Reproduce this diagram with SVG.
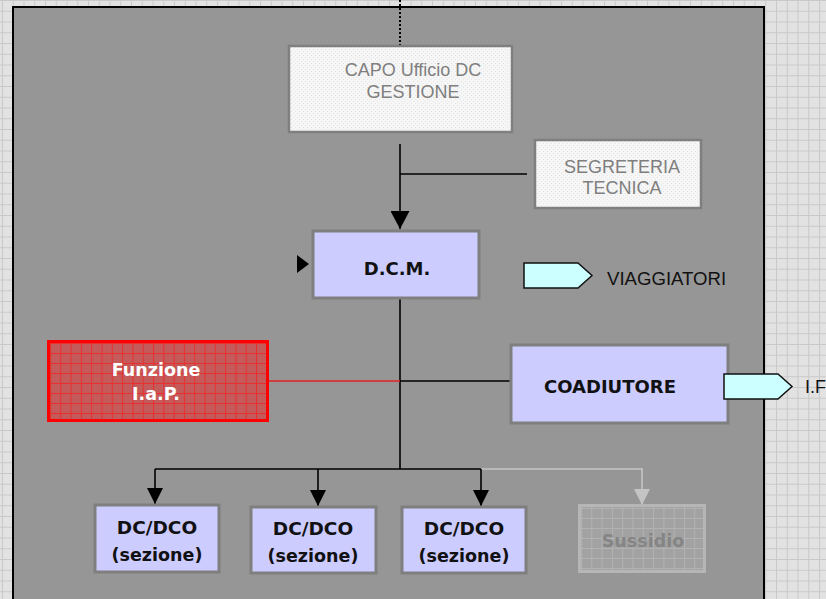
<svg xmlns="http://www.w3.org/2000/svg" width="826" height="599" viewBox="0 0 826 599">
<defs>
<pattern id="bggrid" width="10.75" height="10.75" patternUnits="userSpaceOnUse" x="2" y="0">
<rect width="10.75" height="10.75" fill="#e2e2e2"/>
<path d="M0 0.5H10.75M0.5 0V10.75" stroke="#c9c9c9" stroke-width="1" fill="none"/>
</pattern>
<pattern id="dots" width="4" height="4" patternUnits="userSpaceOnUse">
<rect width="4" height="4" fill="#f6f6f6"/>
<rect x="1" y="1" width="1" height="1" fill="#e4e4e4"/>
<rect x="3" y="3" width="1" height="1" fill="#e4e4e4"/>
</pattern>
<pattern id="redgrid" width="10.3" height="10" patternUnits="userSpaceOnUse" x="50" y="343">
<rect width="10.3" height="10" fill="#c45a5a"/>
<path d="M0 0.5H10.3M0.5 0V10" stroke="#e83030" stroke-width="1" fill="none"/>
</pattern>
<pattern id="graygrid" width="10.3" height="10" patternUnits="userSpaceOnUse" x="581" y="508">
<rect width="10.3" height="10" fill="#a2a2a2"/>
<path d="M0 0.5H10.3M0.5 0V10" stroke="#b2b2b2" stroke-width="1" fill="none"/>
</pattern>
<marker id="ah" viewBox="0 0 16 16" refX="16" refY="8" markerWidth="16" markerHeight="16" markerUnits="userSpaceOnUse" orient="auto">
<path d="M0 0L16 8L0 16Z" fill="#000"/>
</marker>
<marker id="ahb" viewBox="0 0 18 19" refX="18" refY="9.5" markerWidth="18" markerHeight="19" markerUnits="userSpaceOnUse" orient="auto">
<path d="M0 0L18 9.5L0 19Z" fill="#000"/>
</marker>
<marker id="ahg" viewBox="0 0 16 16" refX="16" refY="8" markerWidth="16" markerHeight="16" markerUnits="userSpaceOnUse" orient="auto">
<path d="M0 0L16 8L0 16Z" fill="#c4c4c4"/>
</marker>
</defs>
<style>
.lbl{font-family:"Liberation Sans",Arial,sans-serif;font-size:18px;text-anchor:middle}
.gray{fill:#7f7f7f}
.bold{font-family:"DejaVu Sans",Verdana,sans-serif;font-weight:bold;font-size:17.5px;text-anchor:middle;fill:#111}
.node{fill:#ccccff;stroke:#7f7f7f;stroke-width:3}
.ln{stroke:#000;stroke-width:1.6;fill:none}
.tag{fill:#ccffff;stroke:#111;stroke-width:1.5}
</style>
<rect width="826" height="599" fill="url(#bggrid)"/>
<rect x="13" y="7" width="751" height="600" fill="#969696" stroke="#000" stroke-width="2"/>

<g id="connectors">
<path d="M400 0V45" stroke="#000" stroke-width="2" stroke-dasharray="2 2" fill="none"/>
<path class="ln" d="M400 144V229" marker-end="url(#ahb)"/>
<path class="ln" d="M400 174H527"/>
<path class="ln" d="M400 299V469"/>
<path d="M268 381H400" stroke="#e02020" stroke-width="1.4" fill="none"/>
<path class="ln" d="M400 381H510"/>
<path class="ln" d="M155 469H481"/>
<path d="M481 469H643" stroke="#c4c4c4" stroke-width="1.6" fill="none"/>
<path class="ln" d="M155 469V504" marker-end="url(#ah)"/>
<path class="ln" d="M318 469V506" marker-end="url(#ah)"/>
<path class="ln" d="M481 469V506" marker-end="url(#ah)"/>
<path d="M642 469V505" stroke="#c4c4c4" stroke-width="1.6" fill="none" marker-end="url(#ahg)"/>
<path d="M297 255L309 264L297 273Z" fill="#000"/>
</g>

<g id="capo">
<rect x="289" y="46" width="223" height="86" fill="url(#dots)" stroke="#7f7f7f" stroke-width="2.5"/>
<text class="lbl gray" x="413" y="76">CAPO Ufficio DC</text>
<text class="lbl gray" x="413" y="98">GESTIONE</text>
</g>

<g id="segreteria">
<rect x="535" y="140" width="166" height="68" fill="url(#dots)" stroke="#7f7f7f" stroke-width="2.5"/>
<text class="lbl gray" x="622" y="173">SEGRETERIA</text>
<text class="lbl gray" x="622" y="194">TECNICA</text>
</g>

<g id="dcm">
<rect class="node" x="313" y="231" width="166" height="67"/>
<text class="bold" x="397" y="275" style="font-size:18px">D.C.M.</text>
</g>

<g id="viaggiatori">
<path class="tag" d="M524 263H578L592 275.5L578 288H524Z"/>
<text class="lbl" x="607" y="285" style="text-anchor:start;fill:#111;font-size:18.6px">VIAGGIATORI</text>
</g>

<g id="funzione">
<rect x="48.5" y="341.5" width="219" height="79" fill="url(#redgrid)" stroke="#ff0000" stroke-width="3"/>
<text class="bold" x="156" y="376" style="fill:#fff">Funzione</text>
<text class="bold" x="156" y="400" style="fill:#fff">I.a.P.</text>
</g>

<g id="coadiutore">
<rect class="node" x="511" y="345" width="217" height="78"/>
<text class="bold" x="610" y="393" style="font-size:18px">COADIUTORE</text>
</g>

<g id="if">
<path class="tag" d="M724 374H778L792 386.5L778 399H724Z"/>
<text class="lbl" x="805" y="393" style="text-anchor:start;fill:#111">I.F</text>
</g>

<g id="dc1">
<rect class="node" x="95" y="505" width="124" height="67"/>
<text class="bold" x="157" y="534" style="font-size:18.5px">DC/DCO</text>
<text class="bold" x="157" y="561">(sezione)</text>
</g>

<g id="dc2">
<rect class="node" x="251" y="507" width="125" height="66"/>
<text class="bold" x="313" y="535" style="font-size:18.5px">DC/DCO</text>
<text class="bold" x="313" y="562">(sezione)</text>
</g>

<g id="dc3">
<rect class="node" x="402" y="507" width="124" height="66"/>
<text class="bold" x="464" y="535" style="font-size:18.5px">DC/DCO</text>
<text class="bold" x="464" y="562">(sezione)</text>
</g>

<g id="sussidio">
<rect x="579.5" y="505.5" width="125" height="66" fill="url(#graygrid)" stroke="#b6b6b6" stroke-width="3"/>
<text class="bold" x="643" y="547" style="fill:#858585">Sussidio</text>
</g>
</svg>
